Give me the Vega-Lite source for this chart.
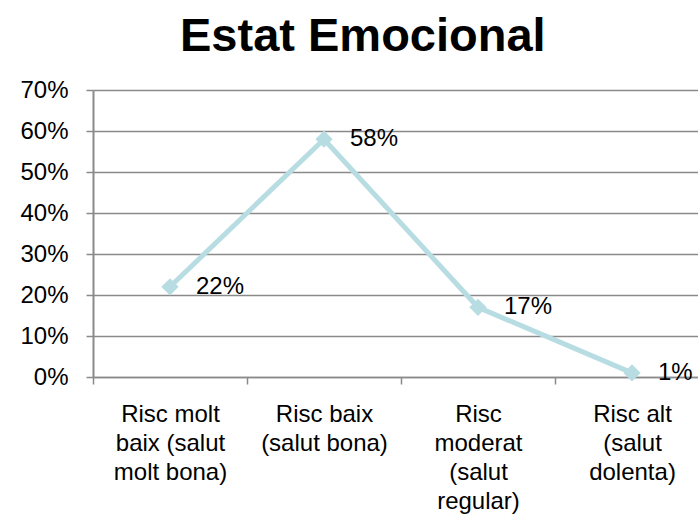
{
  "$schema": "https://vega.github.io/schema/vega-lite/v6.json",
  "width": 605,
  "height": 287,
  "autosize": {"type": "none"},
  "padding": {"left": 93, "top": 90, "right": 0, "bottom": 143},
  "background": "white",
  "title": {
    "text": "Estat Emocional",
    "font": "Liberation Sans",
    "fontSize": 47,
    "fontWeight": "bold",
    "color": "black",
    "anchor": "start",
    "frame": "group",
    "dx": 87,
    "dy": 43,
    "baseline": "alphabetic",
    "offset": 23
  },
  "data": {
    "values": [
      {"category": "Risc molt\nbaix (salut\nmolt bona)", "value": 0.22},
      {"category": "Risc baix\n(salut bona)", "value": 0.58},
      {"category": "Risc\nmoderat\n(salut\nregular)", "value": 0.17},
      {"category": "Risc alt\n(salut\ndolenta)", "value": 0.01}
    ]
  },
  "config": {
    "view": {"stroke": null},
    "font": "Liberation Sans"
  },
  "encoding": {
    "x": {
      "field": "category",
      "type": "nominal",
      "sort": null,
      "scale": {"type": "band", "range": [0, 616], "paddingInner": 0, "paddingOuter": 0},
      "axis": {
        "title": null,
        "labelAngle": 0,
        "labelExpr": "split(datum.label, '\\n')",
        "labelFont": "Liberation Sans",
        "labelFontSize": 24,
        "labelLineHeight": 29,
        "labelColor": "black",
        "labelPadding": 18,
        "labelBaseline": "top",
        "labelLimit": 0,
        "tickBand": "extent",
        "tickSize": 7,
        "tickColor": "#8a8a8a",
        "tickWidth": 1.5,
        "domainColor": "#8a8a8a",
        "domainWidth": 1.5,
        "grid": false
      }
    },
    "y": {
      "field": "value",
      "type": "quantitative",
      "scale": {"domain": [0, 0.7], "nice": false},
      "axis": {
        "title": null,
        "format": ".0%",
        "values": [0, 0.1, 0.2, 0.3, 0.4, 0.5, 0.6, 0.7],
        "labelFont": "Liberation Sans",
        "labelFontSize": 24,
        "labelColor": "black",
        "labelPadding": 18,
        "tickSize": 7,
        "tickColor": "#8a8a8a",
        "tickWidth": 1.5,
        "domainColor": "#8a8a8a",
        "domainWidth": 2,
        "grid": true,
        "gridColor": "#8a8a8a",
        "gridWidth": 1.5,
        "gridOpacity": 1
      }
    }
  },
  "layer": [
    {
      "mark": {"type": "line", "color": "#b7dde3", "strokeWidth": 5}
    },
    {
      "mark": {"type": "point", "shape": "diamond", "filled": true, "color": "#b7dde3", "size": 300, "opacity": 1}
    },
    {
      "mark": {"type": "text", "align": "left", "baseline": "middle", "dx": 26, "fontSize": 24, "font": "Liberation Sans", "color": "black"},
      "encoding": {
        "text": {"field": "value", "type": "quantitative", "format": ".0%"}
      }
    }
  ]
}
